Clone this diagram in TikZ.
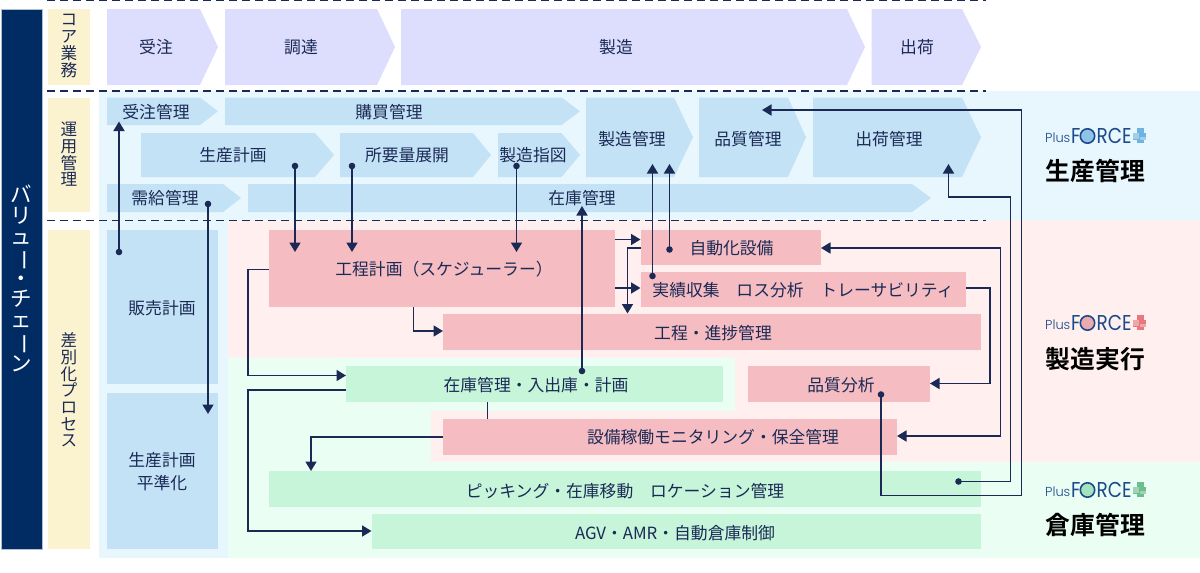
\documentclass[tikz,border=0pt]{standalone}
\usepackage{fontspec}
\usetikzlibrary{arrows.meta,calc}
\setmainfont{Noto Sans CJK JP}
\newfontfamily\logofont{Poppins}[UprightFont=* Light]
\newfontfamily\logobig{Poppins}
\newfontfamily\boldcjk{Noto Sans CJK JP Bold}
\definecolor{navy}{HTML}{002B63}
\definecolor{ink}{HTML}{1A2A55}
\definecolor{wheat}{HTML}{FBF3CF}
\definecolor{lav}{HTML}{DDDDFD}
\definecolor{bluebox}{HTML}{C4E2F6}
\definecolor{bluebg}{HTML}{E8F6FE}
\definecolor{pinkbox}{HTML}{F5BCC2}
\definecolor{pinkbg}{HTML}{FFF0EF}
\definecolor{greenbox}{HTML}{C6F5DA}
\definecolor{greenbg}{HTML}{EAFEF3}
\definecolor{logoblue}{HTML}{1B4B8A}
\definecolor{oblue}{HTML}{8FC4E8}
\definecolor{cblue}{HTML}{6FB4E0}
\definecolor{ored}{HTML}{EBAAAE}
\definecolor{cred}{HTML}{E8787E}
\definecolor{ogreen}{HTML}{A4E3BE}
\definecolor{cgreen}{HTML}{6CBE8E}
\tikzset{
  lbl/.style={inner sep=0pt,text=ink,font=\fontsize{16.8}{18}\selectfont},
  vlbl/.style={inner sep=0pt,text=ink,align=center,font=\fontsize{16.6}{16.7}\selectfont},
  title/.style={inner sep=0pt,text=black,font=\boldcjk\fontsize{24.8}{26}\selectfont},
  conn/.style={draw=ink,line width=1.7pt},
  arr/.style={conn,-{Triangle[length=9.5pt,width=11pt]}},
  dashline/.style={draw=ink,line width=1.1pt,dash pattern=on 8pt off 5pt},
  dotc/.style={fill=ink,circle,inner sep=0pt,minimum size=6.6pt},
  pinkb/.style={fill=pinkbox,inner sep=0pt,outer sep=0pt,anchor=north west},
  greenb/.style={fill=greenbox,inner sep=0pt,outer sep=0pt,anchor=north west},
  blueb/.style={fill=bluebox,inner sep=0pt,outer sep=0pt,anchor=north west},
  wheatb/.style={fill=wheat,inner sep=0pt,outer sep=0pt,anchor=north west},
  logotxt/.style={inner sep=0pt,anchor=base west,xscale=.86,text=logoblue,font=\logobig\fontsize{21.5}{24}\selectfont},
}
% name, style, x1,y1,x2,y2
\newcommand{\mybox}[6]{\pgfmathsetmacro{\bw}{#5-#3}\pgfmathsetmacro{\bh}{#6-#4}%
  \node[#2,minimum width=\bw pt,minimum height=\bh pt] (#1) at (#3,#4) {};}
% colour, x1, x2, tip, y1, y2
\newcommand{\chev}[6]{\fill[#1] (#2,#5) -- (#3,#5) -- (#4,{(#5+#6)/2}) -- (#3,#6) -- (#2,#6) -- cycle;}
\newcommand{\vb}{\rotatebox[origin=c]{-90}{ー}}
\newcommand{\logo}[3]{% y, circle colour, cross colour
  \filldraw[fill=#2,draw=logoblue,line width=1.6pt] (1087.5,#1) circle (7.2);
  \node[inner sep=0pt,anchor=base west,text=logoblue,font=\logofont\fontsize{13}{14}\selectfont] at (1045,#1+6.5) {Plus};
  \node[logotxt] at (1071,#1+7.5) {F};
  \node[logotxt] at (1096.5,#1+7.5) {RCE};
  \fill[#3] (1136.5,#1-8) rectangle (1144,#1+7);
  \fill[#3] (1133,#1-3.5) rectangle (1146,#1+4);
  \fill[#3!65!white] (1133,#1-3.5) rectangle (1139,#1+3);
  \fill[#3!65!white] (1140,#1+1) rectangle (1146,#1+4);
}
\begin{document}
\begin{tikzpicture}[x=1pt,y=-1pt]
\useasboundingbox (0,0) rectangle (1200,573);
% backgrounds
\fill[bluebg] (99,91) rectangle (1200,220);
\fill[bluebg] (99,220) rectangle (228,558);
\fill[pinkbg] (228,220) rectangle (1200,358);
\fill[pinkbg] (735,358) rectangle (1200,462);
\fill[pinkbg] (431,411) rectangle (735,462);
\fill[greenbg] (228,358) rectangle (735,411);
\fill[greenbg] (228,411) rectangle (431,462);
\fill[greenbg] (228,462) rectangle (1200,558);
% dashed rules
\draw[dashline] (47,0.5) -- (986,0.5);
\draw[dashline] (47,91) -- (986,91);
\draw[dashline] (47,220.5) -- (986,220.5);
% left bars
\mybox{vc}{blueb,fill=navy,draw=navy!30!white,line width=.6pt}{1}{9}{42}{549}
\node[inner sep=0pt,text=white,align=center,font=\fontsize{21.5}{20.8}\selectfont] (vctext) at (21,278.5) {バ\\リ\\ュ\\\vb\\・\\チ\\ェ\\\vb\\ン};
\mybox{w1}{wheatb}{48}{9}{90}{85}
\mybox{w2}{wheatb}{48}{97.5}{90}{212}
\mybox{w3}{wheatb}{48}{229.5}{90}{549}
\node[vlbl] (w1t) at (69,46) {コ\\ア\\業\\務};
\node[vlbl] (w2t) at (69,154.5) {運\\用\\管\\理};
\node[vlbl] (w3t) at (69,390) {差\\別\\化\\プ\\ロ\\セ\\ス};
% core chevrons
\chev{lav}{107}{200}{218}{9}{85}
\chev{lav}{225}{377}{395}{9}{85}
\chev{lav}{401}{847}{865}{9}{85}
\chev{lav}{871.7}{962}{981}{9}{85}
\node[lbl] (c1) at (156,47) {受注};
\node[lbl] (c2) at (301,47) {調達};
\node[lbl] (c3) at (616,47) {製造};
\node[lbl] (c4) at (917,47) {出荷};
% operation chevrons
\chev{bluebox}{107}{200}{218}{97.5}{125}
\chev{bluebox}{225}{561.5}{580}{97.5}{125}
\chev{bluebox}{141}{315}{334}{133}{177}
\chev{bluebox}{340}{473}{491}{133}{177}
\chev{bluebox}{498}{561.5}{580}{133}{177}
\chev{bluebox}{586}{674}{693}{97.5}{177}
\chev{bluebox}{699}{788}{806}{97.5}{177}
\chev{bluebox}{813}{962}{981}{97.5}{177}
\chev{bluebox}{107}{223}{241}{184}{212}
\chev{bluebox}{248}{912}{931}{184}{212}
\node[lbl] (o1) at (156,112) {受注管理};
\node[lbl] (o2) at (389,112) {購買管理};
\node[lbl] (o3) at (233,155) {生産計画};
\node[lbl] (o4) at (407,155) {所要量展開};
\node[lbl] (o5) at (533,155) {製造指図};
\node[lbl] (o6) at (632,139) {製造管理};
\node[lbl] (o7) at (748,139) {品質管理};
\node[lbl] (o8) at (889,139) {出荷管理};
\node[lbl] (o9) at (165,198) {需給管理};
\node[lbl] (o10) at (582,198) {在庫管理};
% process boxes
\mybox{hanbai}{blueb}{107}{229.5}{218}{384}
\mybox{heijun}{blueb}{107}{393}{218}{549}
\mybox{koutei}{pinkb}{268.5}{229.5}{615}{307}
\mybox{jido}{pinkb}{640.5}{229.5}{821}{265}
\mybox{jisseki}{pinkb}{640.5}{271.5}{966}{307}
\mybox{shinchoku}{pinkb}{443}{313.5}{981}{349.5}
\mybox{hinshitsu}{pinkb}{747.5}{366}{930}{402}
\mybox{setsubi}{pinkb}{443}{419}{897}{455}
\mybox{zaiko}{greenb}{346}{366}{722.5}{402}
\mybox{picking}{greenb}{268.5}{471}{981}{507}
\mybox{agv}{greenb}{371.5}{513.5}{981}{549}
\node[lbl] (p1) at (162,308) {販売計画};
\node[lbl,align=center,font=\fontsize{16.8}{23}\selectfont] (p2) at (162,471.5) {生産計画\\平準化};
\node[lbl] (p3) at (444,269) {工程計画（スケジューラー）};
\node[lbl] (p4) at (731.5,248) {自動化設備};
\node[lbl] (p5) at (803,290) {実績収集　ロス分析　トレーサビリティ};
\node[lbl] (p6) at (713,333) {工程・進捗管理};
\node[lbl] (p7) at (841,385) {品質分析};
\node[lbl] (p8) at (713,437) {設備稼働モニタリング・保全管理};
\node[lbl] (p9) at (536,385) {在庫管理・入出庫・計画};
\node[lbl] (p10) at (625,491) {ピッキング・在庫移動　ロケーション管理};
\node[lbl] (p11) at (675,533) {AGV・AMR・自動倉庫制御};
% dots
\foreach \n/\x/\y in {d1/119/252,d2/208/204,d3/295/166,d4/352/166,d5/516.5/166,d6/582/371,d7/652.5/276,d8/669.5/249.5,d9/958.5/481.5,d10/881/394.5}
  \node[dotc] (\n) at (\x,\y) {};
% free ends
\coordinate (t1) at (119,121.5);
\coordinate (t2) at (208,414);
\coordinate (t3) at (295,252);
\coordinate (t4) at (352,252);
\coordinate (t5) at (516.5,252);
\coordinate (t6) at (582,206);
\coordinate (t7) at (652.5,164);
\coordinate (t8) at (669.5,164);
\coordinate (t9) at (948.5,164);
\coordinate (t10) at (762,110);
% connectors
\draw[arr] (d1.center) -- (t1);
\draw[arr] (d2.center) -- (t2);
\draw[arr] (d3.center) -- (t3);
\draw[arr] (d4.center) -- (t4);
\draw[arr] (d5.center) -- (t5);
\draw[arr] (d6.center) -- (t6);
\draw[arr] (d7.center) -- (t7);
\draw[arr] (d8.center) -- (t8);
\draw[arr] (koutei.east |- 0,239.5) -- (jido.west |- 0,239.5);
\draw[arr] (koutei.east |- 0,288) -- (jisseki.west |- 0,288);
\draw[arr] (jido.west |- 0,248) -- (627.5,248) -- (627.5,313.5);
\draw[arr] (413.5,307) -- (413.5,331) -- (shinchoku.west |- 0,331);
\draw[arr] (koutei.west |- 0,269.5) -- (248,269.5) -- (248,375.5) -- (zaiko.west |- 0,375.5);
\draw[arr] (zaiko.west |- 0,390) -- (248,390) -- (248,531) -- (agv.west |- 0,531);
\draw[conn] (487.5,402) -- (487.5,419);
\draw[arr] (setsubi.west |- 0,437) -- (311,437) -- (311,471);
\draw[arr] (jisseki.east |- 0,288) -- (990,288) -- (990,383.5) -- (hinshitsu.east |- 0,383.5);
\draw[conn,{Triangle[length=9.5pt,width=11pt]}-{Triangle[length=9.5pt,width=11pt]}] (jido.east |- 0,248) -- (1000.5,248) -- (1000.5,436) -- (setsubi.east |- 0,436);
\draw[arr] (d9.center) -- (1010.5,481.5) -- (1010.5,197) -- (948.5,197) -- (t9);
\draw[arr] (d10.center) -- (881,495.5) -- (1021.5,495.5) -- (1021.5,110) -- (t10);
% right legends
\logo{136}{oblue}{cblue}
\logo{323}{ored}{cred}
\logo{490}{ogreen}{cgreen}
\node[title] (s1) at (1095.5,171) {生産管理};
\node[title] (s2) at (1095.5,359) {製造実行};
\node[title] (s3) at (1095.5,525) {倉庫管理};
\end{tikzpicture}
\end{document}
